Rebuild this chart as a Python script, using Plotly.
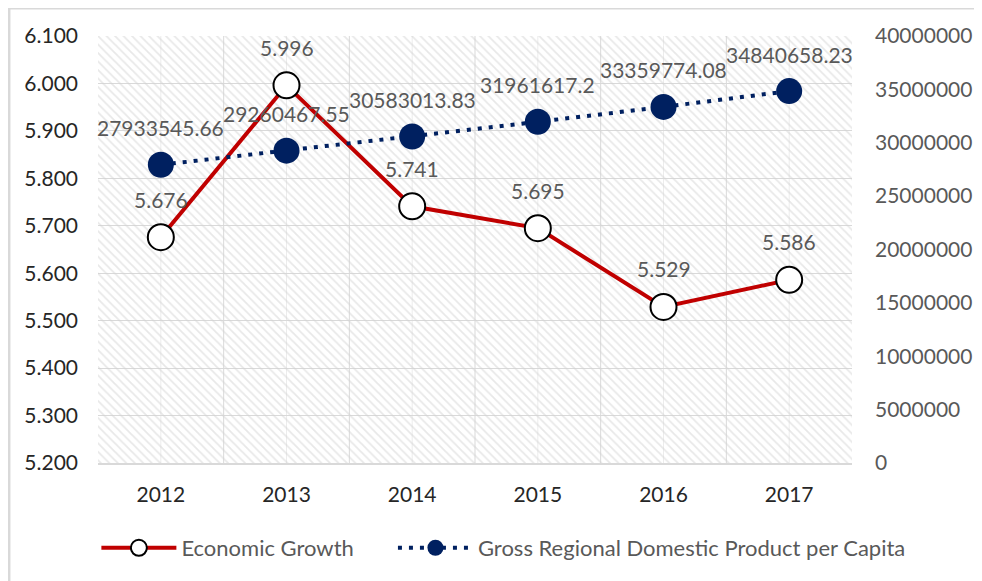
import plotly.graph_objects as go

years = ["2012", "2013", "2014", "2015", "2016", "2017"]
growth = [5.676, 5.996, 5.741, 5.695, 5.529, 5.586]
grdp = [27933545.66, 29260467.55, 30583013.83, 31961617.2, 33359774.08, 34840658.23]
grdp_labels = ["27933545.66", "29260467.55", "30583013.83", "31961617.2", "33359774.08", "34840658.23"]
growth_labels = ["%.3f" % v for v in growth]

FONT = "Lato"
GRAY = "#595959"
FS = 21

fig = go.Figure()

# hatched plot-area background (decorative), on the base (hidden) subplot
fig.add_trace(go.Bar(
    x=[0.5], y=[1], width=[1], xaxis="x", yaxis="y",
    marker=dict(color="rgba(0,0,0,0)", line=dict(width=0),
                pattern=dict(shape="\\", fgcolor="#d2d2d2", bgcolor="rgba(0,0,0,0)",
                             size=6, solidity=0.3, fillmode="overlay")),
    showlegend=False, hoverinfo="skip"))

fig.add_trace(go.Scatter(
    x=years, y=growth, name="Economic Growth", mode="lines+markers",
    line=dict(color="#C00000", width=4),
    marker=dict(size=26, color="white", line=dict(color="black", width=2)),
    cliponaxis=False, xaxis="x2", yaxis="y2", legend="legend"))

fig.add_trace(go.Scatter(
    x=years, y=grdp, name="Gross Regional Domestic Product per Capita", mode="lines+markers",
    line=dict(color="#002060", width=4, dash="4px,7px"),
    marker=dict(size=26, color="#002060"),
    cliponaxis=False, xaxis="x2", yaxis="y3", legend="legend2"))

annotations = []
for i, (v, t) in enumerate(zip(growth, growth_labels)):
    annotations.append(dict(x=i, y=v, xref="x2", yref="y2", text=t, showarrow=False,
                            yshift=38, font=dict(family=FONT, size=FS, color=GRAY)))
for i, (v, t) in enumerate(zip(grdp, grdp_labels)):
    annotations.append(dict(x=i, y=v, xref="x2", yref="y3", text=t, showarrow=False,
                            yshift=37, font=dict(family=FONT, size=FS, color=GRAY)))

legend_common = dict(orientation="h", xref="container", xanchor="left",
                     yref="container", y=0.0706, yanchor="middle",
                     font=dict(size=22, color=GRAY), itemwidth=75,
                     bgcolor="rgba(0,0,0,0)", borderwidth=0)

fig.update_layout(
    width=982, height=581,
    margin=dict(l=90, r=138, t=28, b=126, autoexpand=False),
    paper_bgcolor="white", plot_bgcolor="white",
    font=dict(family=FONT, size=FS, color="#262626"),
    xaxis=dict(range=[0, 1], visible=False, showgrid=False, zeroline=False),
    yaxis=dict(range=[0, 1], visible=False, showgrid=False, zeroline=False),
    xaxis2=dict(type="category", overlaying="x", range=[-0.5, len(years) - 0.5],
                showgrid=False, ticks="", showline=True,
                linecolor="#d9d9d9", linewidth=2, tickfont=dict(size=FS, color="#262626"),
                ticklabelstandoff=12, zeroline=False, side="bottom"),
    yaxis2=dict(range=[5.2, 6.1], dtick=0.1, tickformat=".3f", overlaying="y", side="left",
                showgrid=True, gridcolor="#d9d9d9", gridwidth=1, zeroline=False, showline=False,
                tickfont=dict(size=FS, color="#262626"), ticklabelstandoff=19),
    yaxis3=dict(range=[0, 40000000], dtick=5000000, tickformat="d", overlaying="y",
                side="right", showgrid=False, zeroline=False, showline=False,
                tickfont=dict(size=FS, color=GRAY), ticklabelstandoff=22),
    legend=dict(x=0.09, **legend_common),
    legend2=dict(x=0.392, **legend_common),
    annotations=annotations,
    shapes=[
        dict(type="line", xref="paper", yref="paper", x0=-0.12, x1=1.2, y0=1.0655, y1=1.0655,
             line=dict(color="#d9d9d9", width=3)),
        dict(type="line", xref="paper", yref="paper", x0=-0.1181, x1=-0.1181, y0=-0.3, y1=1.0655,
             line=dict(color="#d9d9d9", width=3)),
    ],
    bargap=0,
)

# vertical gridlines at category boundaries and faint ones at centres
for i in range(len(years)):
    fig.add_shape(type="line", xref="x2", yref="paper", x0=i, x1=i, y0=0, y1=1,
                  line=dict(color="#ececec", width=1), layer="below")
for i in range(1, len(years)):
    fig.add_shape(type="line", xref="x2", yref="paper", x0=i - 0.5, x1=i - 0.5, y0=0, y1=1,
                  line=dict(color="#d9d9d9", width=1), layer="below")

fig.write_html("out.html")
